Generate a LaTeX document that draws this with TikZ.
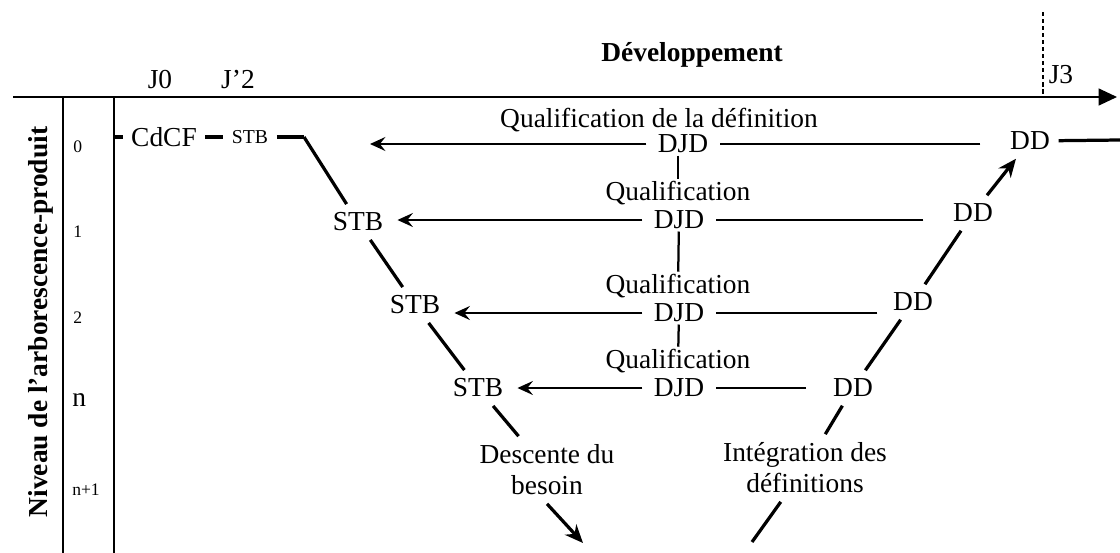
\documentclass[tikz,border=0pt]{standalone}
\usepackage{fontspec}
\setmainfont{Liberation Serif}
\usetikzlibrary{arrows.meta,positioning}

\begin{document}
\begin{tikzpicture}[x=0.025cm,y=-0.025cm,
    every node/.style={font=\fontsize{19.5}{22}\selectfont},
    vnode/.style={inner sep=6pt},
    tnode/.style={inner xsep=8pt,inner ysep=1.5pt},
    small/.style={font=\fontsize{14}{16}\selectfont},
    lvl/.style={anchor=west,inner sep=0pt,font=\fontsize{12.5}{14}\selectfont},
    vline/.style={line width=2.3pt},
    varrow/.style={line width=2.3pt,-{Stealth[length=13pt,width=11pt]}},
    hline/.style={line width=0.9pt},
    harrow/.style={line width=0.9pt,-{Stealth[length=11pt,width=10pt,inset=4pt]}}]
\useasboundingbox (0,0) rectangle (1120,553);

% axes
\coordinate (a0) at (13,97);
\coordinate (a1) at (1117,97);
\draw[line width=1pt,-{Triangle[length=13pt,width=12pt]}] (a0) -- (a1);
\coordinate (v0) at (63,97);
\coordinate (v1) at (63,553);
\draw[line width=2pt] (v0) -- (v1);
\coordinate (w0) at (114,97);
\coordinate (w1) at (114,553);
\draw[line width=1pt] (w0) -- (w1);
\coordinate (d0) at (1043,12);
\coordinate (d1) at (1043,97);
\draw[line width=0.8pt,dash pattern=on 3pt off 2pt] (d0) -- (d1);

\node (dev) at (692,55) {\bfseries Développement};
\node (J0) at (160,80) {J0};
\node (J2) at (238,80) {J’2};
\node (J3) at (1061,75) {J3};
\node[rotate=90] (niv) at (41,322) {\bfseries Niveau de l’arborescence-produit};

% niveaux
\node[lvl] (l0) at (73,147) {0};
\node[lvl] (l1) at (73,232) {1};
\node[lvl] (l2) at (73,318) {2};
\node[lvl,font=\fontsize{19.5}{22}\selectfont] (ln) at (72,400) {n};
\node[lvl] (ln1) at (72,490) {n+1};

% niveau 0
\coordinate (k0) at (115,137);
\node[vnode] (CdCF) at (164,137) {CdCF};
\node[vnode,small] (STB0) at (250,137) {STB};
\coordinate (c0) at (304,137);
\draw[vline] (k0) -- (CdCF) -- (STB0) -- (c0);

% descente
\node[vnode] (STB1) at (358,222) {STB};
\node[vnode] (STB2) at (415,305) {STB};
\node[vnode] (STB3) at (478,388) {STB};
\node[vnode,align=center] (desc) at (547,470) {Descente du\\besoin};
\coordinate (b1) at (583,543);
\draw[vline] (c0) -- (STB1) -- (STB2) -- (STB3) -- (desc);
\draw[varrow] (desc.south) -- (b1);

% integration
\coordinate (b2) at (752,542);
\node[vnode,align=center] (integ) at (805,468) {Intégration des\\définitions};
\node[vnode] (DD3) at (853,388) {DD};
\node[vnode] (DD2) at (913,302) {DD};
\node[vnode] (DD1) at (973,213) {DD};
\node[vnode] (DD0) at (1030,141) {DD};
\coordinate (e0) at (1120,140);
\draw[vline] (b2) -- (integ) -- (DD3) -- (DD2) -- (DD1);
\draw[varrow] (DD1) -- (DD0);
\draw[vline] (DD0) -- (e0);

% qualifications
\node[tnode] (qual0) at (659,120) {Qualification de la définition};
\node[tnode] (djd0) at (683,144) {DJD};
\node[tnode] (qual1) at (678,193) {Qualification};
\node[tnode] (djd1) at (679,220) {DJD};
\node[tnode] (qual2) at (678,286) {Qualification};
\node[tnode] (djd2) at (679,313) {DJD};
\node[tnode] (qual3) at (678,361) {Qualification};
\node[tnode] (djd3) at (679,388) {DJD};
\coordinate (q0) at (370,144);

\draw[hline,shorten <=15pt] (DD0.west |- djd0) -- (djd0);
\draw[harrow] (djd0) -- (q0);
\draw[hline,shorten <=15pt] (DD1.west |- djd1) -- (djd1);
\draw[harrow,shorten >=4pt] (djd1) -- (STB1.east |- djd1);
\draw[hline,shorten <=5pt] (DD2.west |- djd2) -- (djd2);
\draw[harrow,shorten >=4pt] (djd2) -- (STB2.east |- djd2);
\draw[hline,shorten <=13pt] (DD3.west |- djd3) -- (djd3);
\draw[harrow,shorten >=4pt] (djd3) -- (STB3.east |- djd3);

\draw[line width=1.6pt] (qual1.north |- djd0.south) -- (qual1);
\draw[line width=1.6pt] (djd1) -- (qual2);
\draw[line width=1.6pt] (djd2) -- (qual3);
\end{tikzpicture}
\end{document}
